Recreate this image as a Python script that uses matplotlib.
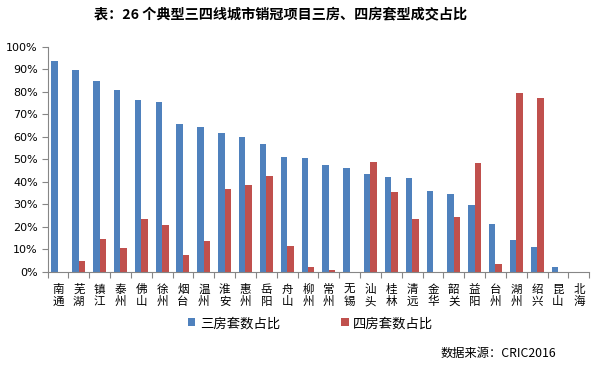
import matplotlib
matplotlib.use("Agg")
import matplotlib.pyplot as plt
import numpy as np
from matplotlib.ticker import PercentFormatter, FixedLocator

plt.rcParams['font.family'] = ['Noto Sans CJK SC', 'DejaVu Sans']

cities = ["南通", "芜湖", "镇江", "泰州", "佛山", "徐州", "烟台", "温州", "淮安", "惠州",
          "岳阳", "舟山", "柳州", "常州", "无锡", "汕头", "桂林", "清远", "金华", "韶关",
          "益阳", "台州", "湖州", "绍兴", "昆山", "北海"]
three_room = [93.5, 89.5, 85.0, 81.0, 76.2, 75.3, 65.7, 64.2, 61.6, 59.8,
              56.8, 51.0, 50.5, 47.4, 46.0, 43.4, 42.0, 41.6, 35.8, 34.5,
              29.6, 21.5, 14.0, 11.0, 2.4, 0.0]
four_room = [0.0, 4.8, 14.5, 10.7, 23.4, 20.7, 7.4, 13.6, 36.7, 38.5,
             42.5, 11.4, 2.3, 1.0, 0.0, 49.0, 35.3, 23.7, 0.0, 24.6,
             48.3, 3.7, 79.4, 77.2, 0.0, 0.0]
yticks = [0, 10, 20, 30, 40, 50, 60, 70, 80, 90, 100]

title = "表：26 个典型三四线城市销冠项目三房、四房套型成交占比"
legend_labels = ["三房套数占比", "四房套数占比"]
source = "数据来源：CRIC2016"

blue = "#4F81BD"
red = "#C0504D"

fig = plt.figure(figsize=(5.94, 3.66), dpi=100)
ax = fig.add_axes([0.080, 0.257, 0.912, 0.615])

x = np.arange(len(cities))
w = 0.31
ax.bar(x - w / 2, three_room, width=w, color=blue, label=legend_labels[0])
ax.bar(x + w / 2, four_room, width=w, color=red, label=legend_labels[1])

ax.set_xlim(-0.5, len(cities) - 0.5)
ax.set_ylim(0, 100)
ax.set_yticks(yticks)
ax.yaxis.set_major_formatter(PercentFormatter(decimals=0))
ax.tick_params(axis='y', labelsize=8, length=4, width=0.8, color='#868686', pad=3)
for lbl in ax.get_yticklabels():
    lbl.set_fontfamily('DejaVu Sans')

ax.set_xticks(x)
ax.set_xticklabels(["\n".join(c) for c in cities], fontsize=8.3, linespacing=0.92)
ax.tick_params(axis='x', which='major', length=0, pad=8)
ax.xaxis.set_minor_locator(FixedLocator(np.arange(-0.5, len(cities), 1.0)))
ax.tick_params(axis='x', which='minor', length=4, width=0.8, color='#868686')

for s in ['top', 'right']:
    ax.spines[s].set_visible(False)
for s in ['left', 'bottom']:
    ax.spines[s].set_color('#868686')
    ax.spines[s].set_linewidth(0.8)

fig.text(0.473, 0.962, title, ha='center', va='center', fontsize=10.2, fontweight='bold')

# legend
fig.legend(loc='center', bbox_to_anchor=(0.523, 0.117), ncol=2, frameon=False,
           fontsize=9.6, handlelength=0.55, handleheight=0.55, columnspacing=4.6,
           handletextpad=0.35)

fig.text(0.937, 0.033, source, ha='right', va='center', fontsize=8.8)

fig.savefig("out.png", dpi=100)
